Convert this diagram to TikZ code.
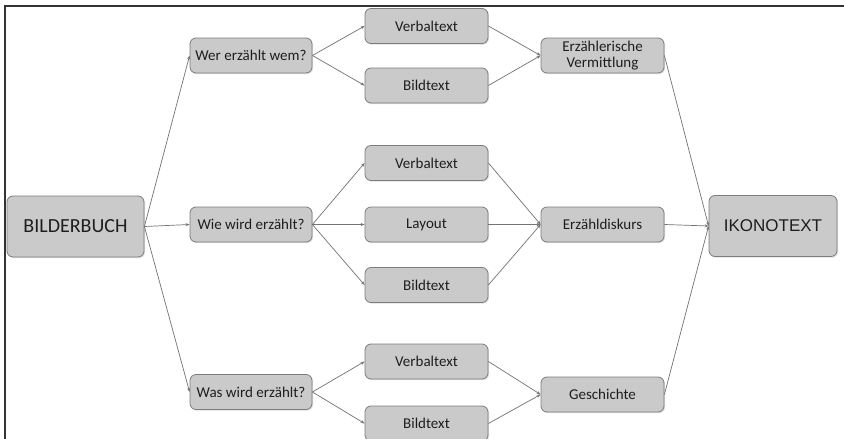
\documentclass[tikz,border=0pt]{standalone}
\usepackage{fontspec}
\setmainfont{Carlito}
\newfontfamily\arialfont{Liberation Sans}
\usetikzlibrary{arrows.meta,shadows}
\definecolor{boxfill}{RGB}{202,202,202}
\definecolor{boxdraw}{RGB}{125,125,125}
\definecolor{edgecol}{RGB}{115,115,115}
\definecolor{txt}{RGB}{30,30,30}
\begin{document}
\begin{tikzpicture}[x=1pt,y=-1pt,
  boxbase/.style={draw=boxdraw, fill=boxfill, rounded corners=6pt, line width=0.8pt,
    text=txt, inner sep=0pt, align=center,
    drop shadow={opacity=0.25, shadow xshift=1pt, shadow yshift=-1.2pt}},
  smallbox/.style={boxbase, minimum width=122pt, minimum height=35pt,
    font=\fontsize{15}{16.5}\selectfont},
  bigbox/.style={boxbase, minimum height=61pt},
  conn/.style={draw=edgecol, line width=0.7pt, -{Stealth[length=4pt,width=3pt]}}
]
\useasboundingbox (0,0) rectangle (844,439);
\fill[white] (0,0) rectangle (844,439);
\draw[line width=1.5pt, black!80] (5,440) -- (5,6) -- (845,6);

\node[bigbox, minimum width=137pt, font=\fontsize{20}{22}\selectfont] (bb) at (75.5,226.5) {BILDERBUCH};
\node[bigbox, minimum width=128pt, font=\arialfont\fontsize{17}{20}\selectfont] (ik) at (773,226) {IKONOTEXT};

\node[smallbox] (q1) at (251,55.5) {Wer erzählt wem?};
\node[smallbox] (q2) at (251,224.5) {Wie wird erzählt?};
\node[smallbox] (q3) at (251,392) {Was wird erzählt?};

\node[smallbox, minimum width=123pt] (v1) at (426.5,26) {Verbaltext};
\node[smallbox, minimum width=123pt] (b1) at (426.5,85.5) {Bildtext};
\node[smallbox, minimum width=123pt] (v2) at (426.5,163) {Verbaltext};
\node[smallbox, minimum width=123pt] (l2) at (426.5,224.5) {Layout};
\node[smallbox, minimum width=123pt] (b2) at (426.5,285) {Bildtext};
\node[smallbox, minimum width=123pt] (v3) at (426.5,361.5) {Verbaltext};
\node[smallbox, minimum width=123pt] (b3) at (426.5,423.5) {Bildtext};

\node[smallbox, minimum width=123pt] (e1) at (602.5,55.5) {Erzählerische\\Vermittlung};
\node[smallbox, minimum width=123pt] (e2) at (602.5,224.5) {Erzähldiskurs};
\node[smallbox, minimum width=123pt] (e3) at (602.5,394.5) {Geschichte};

\foreach \s/\t in {bb/q1,bb/q2,bb/q3,
  q1/v1,q1/b1,q2/v2,q2/l2,q2/b2,q3/v3,q3/b3,
  v1/e1,b1/e1,v2/e2,l2/e2,b2/e2,v3/e3,b3/e3,
  e1/ik,e2/ik,e3/ik}
  \draw[conn] (\s.east) -- (\t.west);
\end{tikzpicture}
\end{document}
